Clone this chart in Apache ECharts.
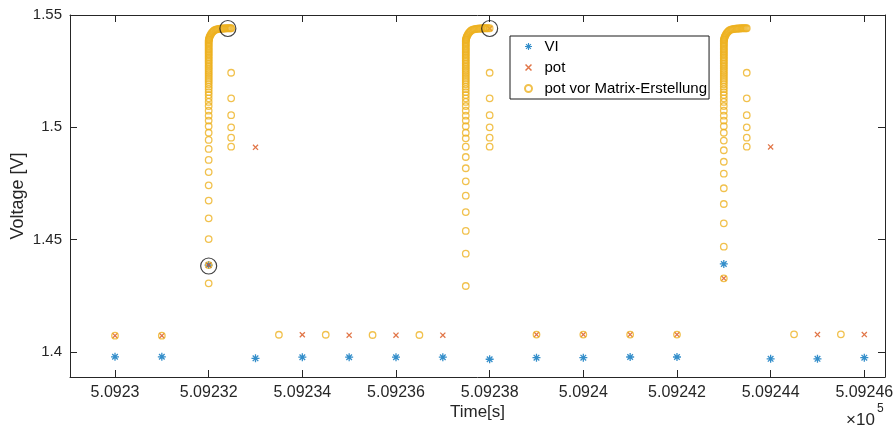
<!DOCTYPE html>
<html>
<head>
<meta charset="utf-8">
<script src="https://cdn.jsdelivr.net/npm/echarts@6/dist/echarts.min.js"></script>
<style>
  html, body { margin: 0; padding: 0; background: #fff; }
  #chart { width: 896px; height: 430px; }
</style>
</head>
<body>
<div id="chart"></div>
<script>
// Time origin in seconds; all times below are offsets from it
const T0 = 509230;

// VI and pot: one sample per second
const sampleOffsets = [0, 1, 2, 3, 4, 5, 6, 7, 8, 9, 10, 11, 12, 13, 14, 15, 16];
const viValues  = [1.3979, 1.3979, 1.4387, 1.3972, 1.3977, 1.3977, 1.3977, 1.3977, 1.3968,
                   1.3975, 1.3975, 1.3978, 1.3978, 1.4392, 1.3970, 1.3970, 1.3975];
const potValues = [1.4073, 1.4073, 1.4387, 1.4911, 1.4077, 1.4075, 1.4075, 1.4075, 1.5440,
                   1.4078, 1.4078, 1.4078, 1.4078, 1.4328, 1.4913, 1.4078, 1.4078];

// pot vor Matrix-Erstellung: isolated samples between the pulses
const preFlatOffsets = [0, 1, 3.5, 4.5, 5.5, 6.5, 9, 10, 11, 12, 14.5, 15.5];
const preFlatValues  = [1.4073, 1.4073, 1.4077, 1.4077, 1.4076, 1.4076,
                        1.4078, 1.4078, 1.4078, 1.4078, 1.4079, 1.4079];

// pot vor Matrix-Erstellung: dense samples during the three pulses
const pulseStarts = [2.0, 7.49, 13.0];
const pulseLowValues = [
  [1.4306, 1.4387, 1.4503, 1.4595, 1.4674, 1.4742, 1.4801, 1.4855, 1.4904, 1.4944],
  [1.4294, 1.4438, 1.4539, 1.4623, 1.4696, 1.4760, 1.4818, 1.4868, 1.4914, 1.4951],
  [1.4328, 1.4469, 1.4573, 1.4659, 1.4729, 1.4794, 1.4847, 1.4898, 1.4941]
];
const riseUpperValues = [
  1.4976, 1.5005, 1.5030, 1.5052, 1.5074, 1.5095, 1.5113, 1.5129, 1.5144, 1.5157,
  1.5170, 1.5181, 1.5192, 1.5202, 1.5211, 1.5220, 1.5229, 1.5237, 1.5245, 1.5253,
  1.5261, 1.5269, 1.5276, 1.5284, 1.5291, 1.5298, 1.5305, 1.5312, 1.5319, 1.5326,
  1.5332, 1.5339, 1.5345, 1.5351, 1.5358, 1.5364, 1.5370, 1.5375, 1.5381, 1.5387
];
const plateauOffsets = [0.004, 0.008, 0.012, 0.018, 0.029, 0.042, 0.058, 0.075, 0.094, 0.115,
                        0.140, 0.165, 0.191, 0.219, 0.245, 0.270, 0.295, 0.320, 0.345, 0.370,
                        0.395, 0.420, 0.445, 0.470];
const plateauValues  = [1.5390, 1.5393, 1.5397, 1.5402, 1.5407, 1.5412, 1.5418, 1.5423, 1.5427, 1.5431,
                        1.5434, 1.5436, 1.5437, 1.5438, 1.5439, 1.5439, 1.5440, 1.5440, 1.5440, 1.5441,
                        1.5441, 1.5441, 1.5441, 1.5441];
const decayOffsets = [2.48, 8.0, 13.49];
const decayValues = [
  [1.5441, 1.5243, 1.5129, 1.5054, 1.5000, 1.4954, 1.4914],
  [1.5441, 1.5243, 1.5129, 1.5054, 1.5000, 1.4954, 1.4914],
  [1.5441, 1.5243, 1.5129, 1.5054, 1.5000, 1.4954, 1.4914]
];

// Highlighted samples (black rings)
const markedOffsets = [2.0, 2.41, 8.0];
const markedValues  = [1.4383, 1.5440, 1.5440];

// Axis ticks
const xTickOffsets = [0, 2, 4, 6, 8, 10, 12, 14, 16];
const yTicks = [1.4, 1.45, 1.5, 1.55];
const xRange = [-0.961, 16.442];
const yRange = [1.3889, 1.55];

const INK = '#262626';
const FONT = '"Liberation Sans", Arial, Helvetica, sans-serif';

const viData = sampleOffsets.map((t, i) => [T0 + t, viValues[i]]);
const potData = sampleOffsets.map((t, i) => [T0 + t, potValues[i]]);
const preData = preFlatOffsets.map((t, i) => [T0 + t, preFlatValues[i]]);
pulseStarts.forEach((t0, p) => {
  pulseLowValues[p].forEach(v => preData.push([T0 + t0, v]));
  riseUpperValues.forEach(v => preData.push([T0 + t0, v]));
  plateauOffsets.forEach((dt, i) => preData.push([T0 + t0 + dt, plateauValues[i]]));
  decayValues[p].forEach(v => preData.push([T0 + decayOffsets[p], v]));
});
const markedData = markedOffsets.map((t, i) => [T0 + t, markedValues[i]]);

// Marker shapes: eight-spoke asterisk and a diagonal cross
const asteriskPath = 'path://M0 4.2H10V5.8H0Z M4.2 0H5.8V10H4.2Z ' +
  'M2.07 0.93L9.07 7.93L7.93 9.07L0.93 2.07Z M7.93 0.93L9.07 2.07L2.07 9.07L0.93 7.93Z';
const crossPath = 'path://M1.5 0L10 8.5L8.5 10L0 1.5Z M8.5 0L10 1.5L1.5 10L0 8.5Z';

const xTickValues = xTickOffsets.map(t => T0 + t);

function frameAxis(position, isX) {
  return {
    type: 'value',
    position: position,
    min: isX ? T0 + xRange[0] : yRange[0],
    max: isX ? T0 + xRange[1] : yRange[1],
    axisLine: { show: true, onZero: false, lineStyle: { color: INK, width: 1 } },
    axisTick: { show: true, inside: true, length: 7, lineStyle: { color: INK, width: 1 },
                customValues: isX ? xTickValues : yTicks },
    axisLabel: { show: false },
    splitLine: { show: false }
  };
}

const xBottom = frameAxis('bottom', true);
xBottom.axisLabel = {
  show: true, customValues: xTickValues, margin: 8,
  color: INK, fontSize: 16, fontFamily: FONT,
  formatter: v => String(+(v / 1e5).toFixed(5))
};
xBottom.name = 'Time[s]';
xBottom.nameLocation = 'middle';
xBottom.nameGap = 27;
xBottom.nameMoveOverlap = false;
xBottom.nameTextStyle = { color: INK, fontSize: 17, fontFamily: FONT };

const yLeft = frameAxis('left', false);
yLeft.axisLabel = {
  show: true, customValues: yTicks, margin: 8,
  color: INK, fontSize: 15, fontFamily: FONT,
  formatter: v => String(v)
};
yLeft.name = 'Voltage [V]';
yLeft.nameLocation = 'middle';
yLeft.nameRotate = 90;
yLeft.nameGap = 43;
yLeft.nameMoveOverlap = false;
yLeft.nameTextStyle = { color: INK, fontSize: 18, fontFamily: FONT };

const chart = echarts.init(document.getElementById('chart'), null, { renderer: 'canvas' });
chart.setOption({
  animation: false,
  backgroundColor: '#fff',
  grid: { left: 70, right: 11, top: 15, bottom: 53, containLabel: false, outerBoundsMode: 'none' },
  xAxis: [xBottom, frameAxis('top', true)],
  yAxis: [yLeft, frameAxis('right', false)],
  legend: {
    data: ['VI', 'pot', 'pot vor Matrix-Erstellung'],
    orient: 'vertical',
    left: 510, top: 36,
    padding: [3, 2, 3, 14],
    itemWidth: 22, itemHeight: 7, itemGap: 6,
    backgroundColor: '#fff',
    borderColor: '#1a1a1a', borderWidth: 1, borderRadius: 0,
    textStyle: { color: '#000', fontSize: 15, fontFamily: FONT },
    selectedMode: false
  },
  graphic: [
    { type: 'text', left: 846, top: 412, style: { text: '×10', fill: INK, font: '17px ' + FONT } },
    { type: 'text', left: 877, top: 403, style: { text: '5', fill: INK, font: '12px ' + FONT } }
  ],
  series: [
    {
      name: 'VI', type: 'scatter', data: viData,
      symbol: asteriskPath, symbolSize: 8,
      itemStyle: { color: '#0072BD' }
    },
    {
      name: 'pot', type: 'scatter', data: potData,
      symbol: crossPath, symbolSize: 6,
      itemStyle: { color: '#D95319' }
    },
    {
      name: 'pot vor Matrix-Erstellung', type: 'scatter', data: preData,
      symbol: 'circle', symbolSize: 6.5,
      itemStyle: { color: 'rgba(0,0,0,0)', borderColor: '#EDB120', borderWidth: 1.3 }
    },
    {
      name: 'marked', type: 'scatter', data: markedData,
      symbol: 'circle', symbolSize: 16,
      itemStyle: { color: 'rgba(0,0,0,0)', borderColor: '#111', borderWidth: 1.2 }
    }
  ]
});
</script>
</body>
</html>
